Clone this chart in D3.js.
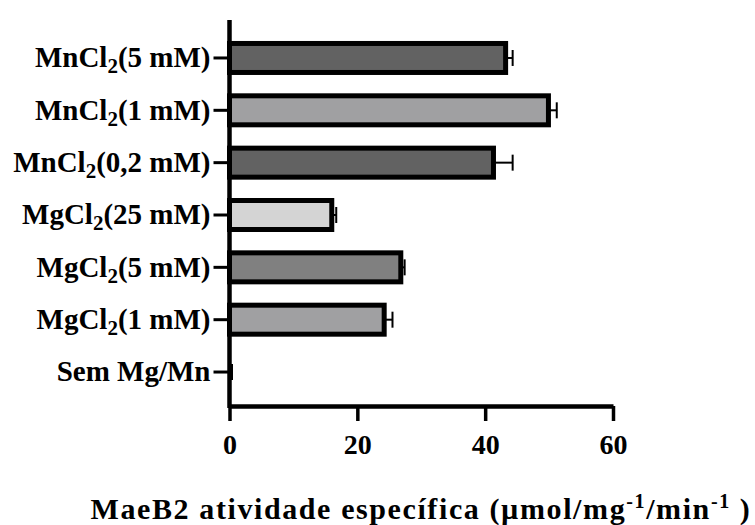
<!DOCTYPE html>
<html>
<head>
<meta charset="utf-8">
<script src="https://cdn.jsdelivr.net/npm/d3@7"></script>
<style>
  body { margin: 0; background: #fff; }
  svg { display: block; }
  svg text { font-family: "Liberation Serif", "Times New Roman", serif; font-weight: bold; fill: #000; }
</style>
</head>
<body>
<svg id="chart" width="755" height="525"></svg>
<script>
  // data (top to bottom)
  const categories = ['MnCl2(5 mM)', 'MnCl2(1 mM)', 'MnCl2(0,2 mM)', 'MgCl2(25 mM)', 'MgCl2(5 mM)', 'MgCl2(1 mM)', 'Sem Mg/Mn'];
  const values = [43.2, 49.9, 41.3, 16.0, 26.8, 24.2, 0];
  const errors = [1.1, 1.3, 3.0, 0.7, 0.6, 1.3, 0];
  const fills = ['#626262', '#a0a0a2', '#626262', '#d4d4d4', '#808080', '#a0a0a2', '#ffffff'];
  const xTicks = [0, 20, 40, 60];

  const svg = d3.select('#chart');
  const width = 755, height = 525;
  svg.append('rect').attr('width', width).attr('height', height).attr('fill', '#fff');

  const xAxisY = 406;
  const axisTop = 20;

  const x = d3.scaleLinear().domain([0, 60]).range([229.5, 613]);
  const y = d3.scaleBand().domain(categories).range([31.8, 398.2])
    .paddingInner(0.446).paddingOuter(0.223);

  const rows = categories.map((c, i) => ({cat: c, value: values[i], err: errors[i], fill: fills[i]}));

  //// bars
  const bars = rows.filter(d => d.value > 0);
  svg.selectAll('.bar').data(bars).enter().append('rect')
    .attr('class', 'bar')
    .attr('x', x(0))
    .attr('y', d => y(d.cat))
    .attr('width', d => x(d.value) - x(0))
    .attr('height', y.bandwidth())
    .style('fill', d => d.fill)
    .style('stroke', '#000')
    .style('stroke-width', 5);

  //// y axis
  const yAxis = svg.append('g')
    .attr('transform', `translate(${x(0)},0)`)
    .call(d3.axisLeft(y).tickSize(16).tickPadding(3).tickSizeOuter(0));
  yAxis.select('.domain').remove();
  yAxis.selectAll('.tick line').style('stroke', '#000').style('stroke-width', 3);
  yAxis.selectAll('.tick text').each(function (d) {
    const t = d3.select(this).text('').style('font-size', '29px');
    const m = d.match(/^(.*Cl)2(.*)$/);
    if (m) {
      t.append('tspan').text(m[1]);
      t.append('tspan').text('2').style('font-size', '21px').attr('dy', 6);
      t.append('tspan').text(m[2]).attr('dy', -6);
    } else {
      t.text(d);
    }
  });

  svg.append('line')
    .attr('x1', x(0)).attr('x2', x(0))
    .attr('y1', axisTop).attr('y2', xAxisY + 2)
    .style('stroke', '#000').style('stroke-width', 4.5);

  //// error bars (only the upper side shows)
  const eb = svg.selectAll('.err').data(rows).enter().append('g').attr('class', 'err');
  eb.append('line')
    .attr('x1', d => x(d.value)).attr('x2', d => x(d.value + d.err))
    .attr('y1', d => y(d.cat) + y.bandwidth() / 2).attr('y2', d => y(d.cat) + y.bandwidth() / 2)
    .style('stroke', '#000').style('stroke-width', 2);
  eb.append('line')
    .attr('x1', d => x(d.value + d.err) + (d.err ? 0 : 2.5)).attr('x2', d => x(d.value + d.err) + (d.err ? 0 : 2.5))
    .attr('y1', d => y(d.cat) + y.bandwidth() / 2 - 8).attr('y2', d => y(d.cat) + y.bandwidth() / 2 + 8)
    .style('stroke', '#000').style('stroke-width', 2);

  //// x axis
  const xAxis = svg.append('g')
    .attr('transform', `translate(0,${xAxisY})`)
    .call(d3.axisBottom(x).tickValues(xTicks).tickSize(15).tickPadding(13).tickSizeOuter(0));
  xAxis.select('.domain').style('stroke', '#000').style('stroke-width', 4.5);
  xAxis.selectAll('.tick line').style('stroke', '#000').style('stroke-width', 3.5);
  xAxis.selectAll('.tick text').style('font-size', '28px');

  //// axis title
  const title = svg.append('text')
    .attr('x', 421).attr('y', 519)
    .attr('text-anchor', 'middle')
    .style('font-size', '30px').style('letter-spacing', '1.6px');
  title.append('tspan').text('MaeB2 atividade específica (µmol/mg');
  title.append('tspan').text('-1').style('font-size', '20px').attr('dy', -11);
  title.append('tspan').text('/min').attr('dy', 11);
  title.append('tspan').text('-1').style('font-size', '20px').attr('dy', -11);
  title.append('tspan').text(' )').attr('dy', 11);
</script>
</body>
</html>
